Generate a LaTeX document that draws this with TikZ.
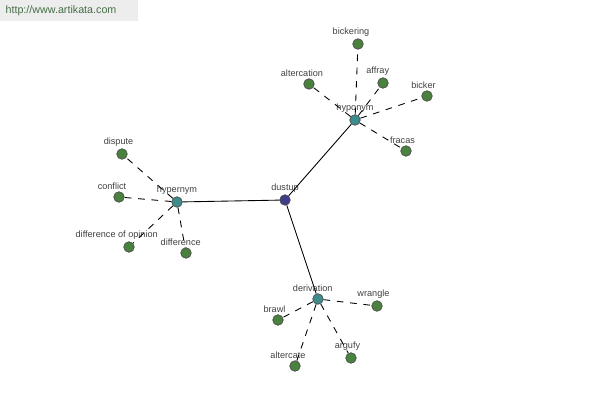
\documentclass[tikz,border=0pt]{standalone}
\usepackage{fontspec}
\setmainfont{Liberation Sans}
\definecolor{leafgreen}{RGB}{72,130,62}
\definecolor{hubteal}{RGB}{62,140,140}
\definecolor{rootblue}{RGB}{62,62,140}
\definecolor{marktext}{RGB}{70,110,70}
\tikzset{
  leaf/.style={circle, draw=black!70, fill=leafgreen, inner sep=0pt, minimum size=6pt},
  hub/.style={circle, draw=black!70, fill=hubteal, inner sep=0pt, minimum size=6pt},
  root/.style={circle, draw=black!70, fill=rootblue, inner sep=0pt, minimum size=6pt},
  lbl/.style={text=black!75, inner sep=0.8pt, font=\fontsize{5.2}{6}\selectfont},
  rel/.style={black, line width=0.5pt, dash pattern=on 3.8pt off 3.8pt},
  link/.style={black, line width=0.5pt}
}
\begin{document}
\begin{tikzpicture}[x=0.02cm, y=-0.02cm, font=\fontsize{5.2}{6}\selectfont, line cap=butt]
	\useasboundingbox (0,0) rectangle (600,400);
	% watermark
	\fill[black!7] (0,0) rectangle (138,21);
	\node[text=marktext, font=\fontsize{6.1}{7}\selectfont] (mark) at (61,11) {http://www.artikata.com};
	% centre and hubs
	\node[root, label={[lbl]above:dustup}] (dustup) at (285,200) {};
	\node[hub, label={[lbl]above:hypernym}] (hypernym) at (177,202) {};
	\node[hub, label={[lbl]above:hyponym}] (hyponym) at (355,120) {};
	\node[hub, label={[lbl, xshift=-3]above:derivation}] (derivation) at (318,299) {};
	% leaves
	\node[leaf, label={[lbl, xshift=-4]above:bickering}] (bickering) at (358,44) {};
	\node[leaf, label={[lbl, xshift=-4]above:altercation}] (altercation) at (309,84) {};
	\node[leaf, label={[lbl, xshift=-3]above:affray}] (affray) at (383,83) {};
	\node[leaf, label={[lbl, xshift=-2]above:bicker}] (bicker) at (427,96) {};
	\node[leaf, label={[lbl, xshift=-2]above:fracas}] (fracas) at (406,151) {};
	\node[leaf, label={[lbl, xshift=-2]above:dispute}] (dispute) at (122,154) {};
	\node[leaf, label={[lbl, xshift=-4]above:conflict}] (conflict) at (119,197) {};
	\node[leaf, label={[lbl, xshift=-7]above:difference of opinion}] (diffop) at (129,247) {};
	\node[leaf, label={[lbl, xshift=-3]above:difference}] (difference) at (186,253) {};
	\node[leaf, label={[lbl, xshift=-2]above:wrangle}] (wrangle) at (377,306) {};
	\node[leaf, label={[lbl, xshift=-2]above:brawl}] (brawl) at (278,320) {};
	\node[leaf, label={[lbl, xshift=-4]above:altercate}] (altercate) at (295,366) {};
	\node[leaf, label={[lbl, xshift=-2]above:argufy}] (argufy) at (351,358) {};
	% links
	\draw[link] (dustup) -- (hypernym);
	\draw[link] (dustup) -- (hyponym);
	\draw[link] (dustup) -- (derivation);
	\foreach \t in {bickering,altercation,affray,bicker,fracas}
		\draw[rel] (hyponym) -- (\t);
	\foreach \t in {dispute,conflict,diffop,difference}
		\draw[rel] (hypernym) -- (\t);
	\foreach \t in {wrangle,brawl,altercate,argufy}
		\draw[rel] (derivation) -- (\t);
\end{tikzpicture}
\end{document}
